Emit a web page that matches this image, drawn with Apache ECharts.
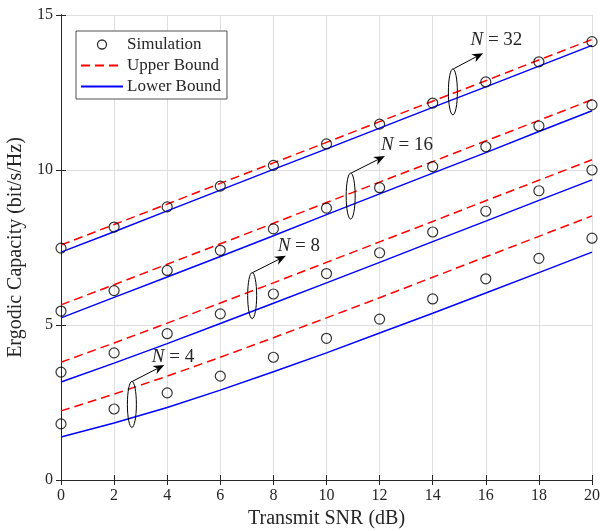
<!DOCTYPE html>
<html>
<head>
<meta charset="utf-8">
<script src="https://cdn.jsdelivr.net/npm/echarts@6/dist/echarts.min.js"></script>
<style>
  html, body { margin: 0; padding: 0; background: #fff; }
  #chart { width: 607px; height: 531px; }
</style>
</head>
<body>
<div id="chart"></div>
<script>
const snr = [0, 2, 4, 6, 8, 10, 12, 14, 16, 18, 20]

// simulation points
const sim4 = [1.81, 2.29, 2.81, 3.35, 3.96, 4.57, 5.19, 5.84, 6.49, 7.15, 7.80]
const sim8 = [3.48, 4.10, 4.72, 5.36, 6.00, 6.66, 7.33, 8.00, 8.67, 9.33, 10.00]
const sim16 = [5.45, 6.11, 6.76, 7.41, 8.10, 8.77, 9.43, 10.11, 10.75, 11.42, 12.10]
const sim32 = [7.48, 8.16, 8.81, 9.48, 10.15, 10.84, 11.48, 12.16, 12.84, 13.49, 14.14]

// upper bounds
const up4 = [2.23, 2.77, 3.35, 3.96, 4.59, 5.23, 5.88, 6.54, 7.20, 7.86, 8.52]
const up8 = [3.80, 4.42, 5.06, 5.71, 6.36, 7.02, 7.68, 8.34, 9.01, 9.67, 10.33]
const up16 = [5.65, 6.30, 6.96, 7.62, 8.28, 8.95, 9.61, 10.27, 10.94, 11.60, 12.27]
const up32 = [7.58, 8.24, 8.90, 9.57, 10.23, 10.89, 11.56, 12.22, 12.88, 13.55, 14.21]

// lower bounds
const lo4 = [1.39, 1.84, 2.34, 2.90, 3.49, 4.10, 4.74, 5.38, 6.03, 6.69, 7.35]
const lo8 = [3.16, 3.77, 4.40, 5.05, 5.70, 6.36, 7.02, 7.69, 8.35, 9.02, 9.68]
const lo16 = [5.23, 5.89, 6.55, 7.21, 7.88, 8.56, 9.23, 9.90, 10.56, 11.24, 11.91]
const lo32 = [7.35, 8.01, 8.68, 9.35, 10.02, 10.68, 11.35, 12.02, 12.68, 13.35, 14.02]

// ellipse + arrow annotations, in data units
const notes = [
  { n: '4', ellipse: [2.67, 2.44], tip: [3.89, 3.71], text: [4.22, 3.97] },
  { n: '8', ellipse: [7.2, 5.95], tip: [8.47, 7.23], text: [8.96, 7.55] },
  { n: '16', ellipse: [10.91, 9.16], tip: [12.2, 10.45], text: [13.03, 10.81] },
  { n: '32', ellipse: [14.76, 12.52], tip: [15.9, 13.77], text: [16.4, 14.2] }
]

const serif = "'Liberation Serif', 'DejaVu Serif', serif"
const ink = '#262626'
const pairs = ys => snr.map((x, i) => [x, ys[i]])

const chart = echarts.init(document.getElementById('chart'))

const series = []
;[up4, up8, up16, up32].forEach(d => series.push({
  name: 'Upper Bound', type: 'line', data: pairs(d), symbol: 'none',
  lineStyle: { color: '#ff0000', width: 1.5, type: [9, 5] },
  itemStyle: { color: '#ff0000' }, z: 2
}))
;[lo4, lo8, lo16, lo32].forEach(d => series.push({
  name: 'Lower Bound', type: 'line', data: pairs(d), symbol: 'none',
  lineStyle: { color: '#0000ff', width: 1.5 },
  itemStyle: { color: '#0000ff' }, z: 2
}))
;[sim4, sim8, sim16, sim32].forEach(d => series.push({
  name: 'Simulation', type: 'scatter', data: pairs(d), symbol: 'circle', symbolSize: 10,
  itemStyle: { color: 'rgba(0,0,0,0)', borderColor: '#000', borderWidth: 1.2 }, z: 3
}))

const hiddenAxis = {
  axisLabel: { show: false }, splitLine: { show: false },
  axisLine: { lineStyle: { color: ink, width: 1 } },
  axisTick: { inside: true, length: 5, lineStyle: { color: ink } }
}

const option = {
  animation: false,
  backgroundColor: '#fff',
  textStyle: { fontFamily: serif },
  grid: { left: 61, right: 15, top: 15, bottom: 51, outerBoundsMode: 'none' },
  legend: {
    orient: 'vertical', left: 76, top: 31,
    data: [
      { name: 'Simulation', itemStyle: { color: 'rgba(0,0,0,0)', borderColor: '#000', borderWidth: 1.3 } },
      { name: 'Upper Bound', itemStyle: { opacity: 0 } },
      { name: 'Lower Bound', itemStyle: { opacity: 0 } }
    ],
    itemWidth: 42, itemHeight: 9, itemGap: 4,
    padding: [5, 6, 4, 4],
    backgroundColor: '#fff', borderColor: ink, borderWidth: 0.8, borderRadius: 0,
    textStyle: { fontFamily: serif, fontSize: 17, color: ink, padding: [0, 0, 0, -1] }
  },
  xAxis: [{
    type: 'value', min: 0, max: 20, interval: 2,
    name: 'Transmit SNR (dB)', nameLocation: 'middle', nameGap: 29,
    nameTextStyle: { fontFamily: serif, fontSize: 20, color: ink },
    axisLine: { lineStyle: { color: ink, width: 1 } },
    axisTick: { inside: true, length: 5, lineStyle: { color: ink } },
    axisLabel: { fontFamily: serif, fontSize: 16, color: ink, margin: 8 },
    splitLine: { show: true, lineStyle: { color: '#dfdfdf', width: 1 } }
  }, Object.assign({ type: 'value', position: 'top', min: 0, max: 20, interval: 2 }, hiddenAxis)],
  yAxis: [{
    type: 'value', min: 0, max: 15, interval: 5,
    name: 'Ergodic Capacity (bit/s/Hz)', nameLocation: 'middle', nameGap: 33,
    nameTextStyle: { fontFamily: serif, fontSize: 20, color: ink },
    axisLine: { show: true, lineStyle: { color: ink, width: 1 } },
    axisTick: { show: true, inside: true, length: 5, lineStyle: { color: ink } },
    axisLabel: { fontFamily: serif, fontSize: 16, color: ink, margin: 8 },
    splitLine: { show: true, lineStyle: { color: '#dfdfdf', width: 1 } }
  }, Object.assign({ type: 'value', position: 'right', min: 0, max: 15, interval: 5,
    axisLine: { show: true, lineStyle: { color: ink, width: 1 } } }, hiddenAxis)],
  series: series
}
chart.setOption(option)

// annotations placed via the axes
const graphics = []
notes.forEach(a => {
  const c = chart.convertToPixel({ gridIndex: 0 }, a.ellipse)
  const t = chart.convertToPixel({ gridIndex: 0 }, a.tip)
  const p = chart.convertToPixel({ gridIndex: 0 }, a.text)
  const ry = 23, rx = 4.5
  graphics.push({
    type: 'ellipse', shape: { cx: c[0], cy: c[1], rx: rx, ry: ry },
    style: { fill: 'none', stroke: '#000', lineWidth: 1 }, z: 10
  })
  const sx = c[0] + 0.5, sy = c[1] - ry
  const dx = t[0] - sx, dy = t[1] - sy
  const len = Math.sqrt(dx * dx + dy * dy)
  const ux = dx / len, uy = dy / len
  const hl = 11, hw = 4.5
  const bx = t[0] - ux * hl, by = t[1] - uy * hl
  const nx = t[0] - ux * hl * 0.7, ny = t[1] - uy * hl * 0.7
  graphics.push({
    type: 'line', shape: { x1: sx, y1: sy, x2: nx, y2: ny },
    style: { stroke: '#000', lineWidth: 1 }, z: 10
  })
  graphics.push({
    type: 'polygon',
    shape: { points: [[t[0], t[1]], [bx - uy * hw, by + ux * hw], [nx, ny], [bx + uy * hw, by - ux * hw]] },
    style: { fill: '#000' }, z: 10
  })
  graphics.push({
    type: 'text', x: p[0], y: p[1], z: 10,
    style: {
      text: '{i|N} = ' + a.n, fontFamily: serif, fontSize: 19, fill: ink,
      align: 'center', verticalAlign: 'middle',
      rich: { i: { fontStyle: 'italic', fontFamily: serif, fontSize: 19, fill: ink } }
    }
  })
})
chart.setOption({ graphic: graphics })
</script>
</body>
</html>
